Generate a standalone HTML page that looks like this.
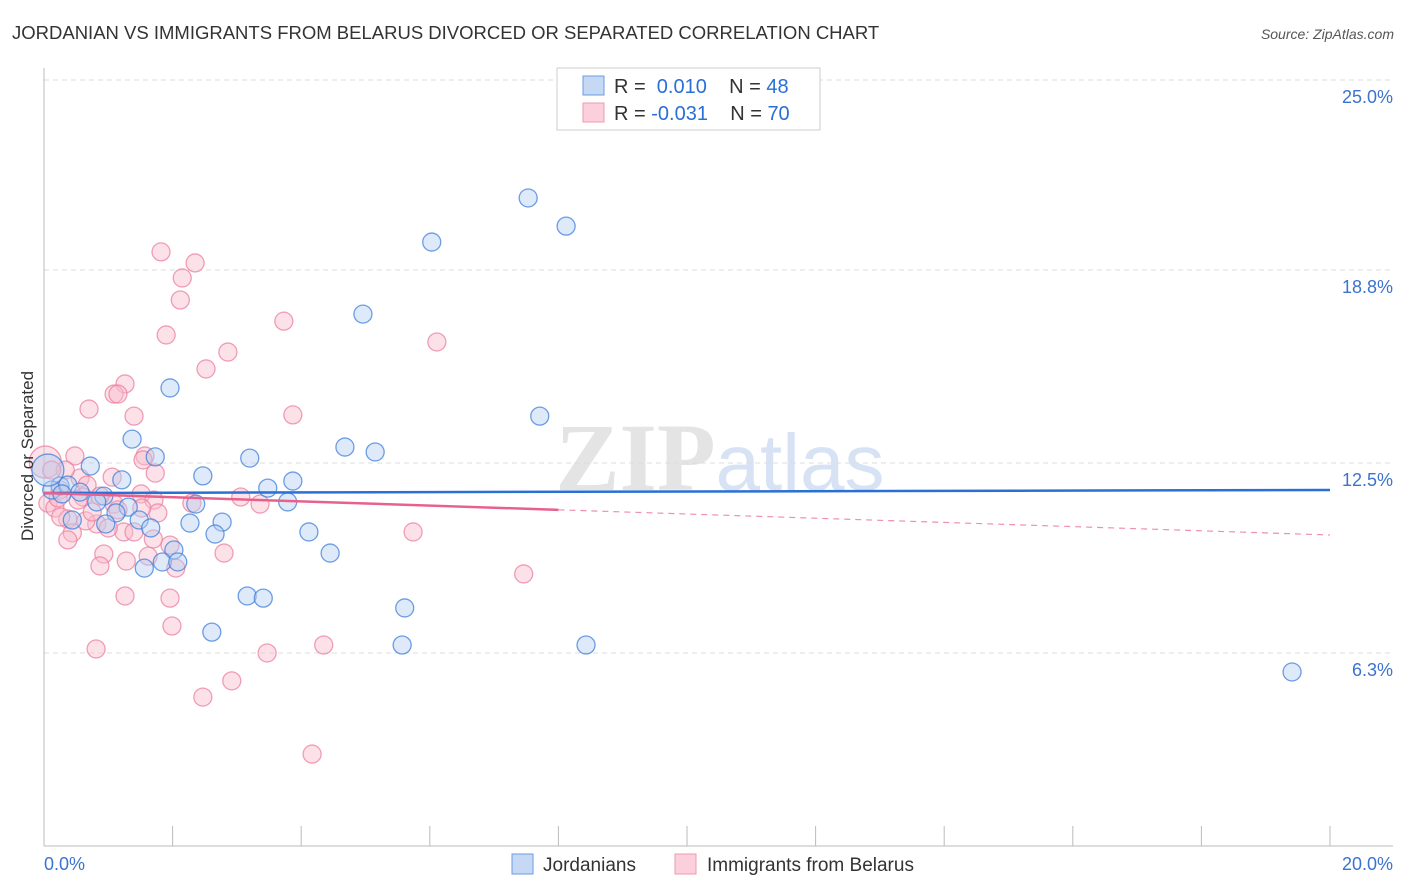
<!DOCTYPE html>
<html><head><meta charset="utf-8"><style>
body{margin:0;background:#fff;font-family:"Liberation Sans",sans-serif}
</style></head><body>
<svg id="chart" width="1406" height="892" xmlns="http://www.w3.org/2000/svg" style="display:block">
<text x="12" y="39" font-size="18.5" fill="#333">JORDANIAN VS IMMIGRANTS FROM BELARUS DIVORCED OR SEPARATED CORRELATION CHART</text>
<text x="1394" y="39" font-size="14" fill="#555" text-anchor="end" font-style="italic">Source: ZipAtlas.com</text>
<text x="720" y="490" font-size="96" text-anchor="middle" fill="#e4e4e4" font-family="Liberation Serif,serif" font-weight="bold">ZIP<tspan fill="#d7e3f4" font-family="Liberation Sans,sans-serif" font-weight="normal" font-size="80">atlas</tspan></text>
<g id="grid"></g><g id="axes"></g><g id="pts"></g><g id="lines"></g>
<text transform="translate(33,456) rotate(-90)" font-size="17" fill="#333" text-anchor="middle">Divorced or Separated</text>
<g>
<rect x="557" y="68" width="263" height="62" fill="#fff" stroke="#ccc"/>
<rect x="583" y="76" width="21" height="19" fill="#c5d9f5" stroke="#6b9be0"/>
<rect x="583" y="103" width="21" height="19" fill="#fbd0dc" stroke="#ef9ab3"/>
<text x="614" y="93" font-size="20" fill="#333">R = <tspan fill="#2a6fd6">&#160;0.010</tspan>&#160;&#160;&#160; N = <tspan fill="#2a6fd6">48</tspan></text>
<text x="614" y="120" font-size="20" fill="#333">R = <tspan fill="#2a6fd6">-0.031</tspan>&#160;&#160;&#160; N = <tspan fill="#2a6fd6">70</tspan></text>
</g>
<g>
<rect x="512" y="854" width="21" height="20" fill="#c5d9f5" stroke="#6b9be0"/>
<text x="543" y="871" font-size="19" fill="#333">Jordanians</text>
<rect x="675" y="854" width="21" height="20" fill="#fbd0dc" stroke="#ef9ab3"/>
<text x="707" y="871" font-size="19" fill="#333">Immigrants from Belarus</text>
</g>
</svg>
<script>
const yTicks=[25,18.8,12.5,6.3];
const yTickLabels=["25.0%","18.8%","12.5%","6.3%"];
const xTickLabels=["0.0%","20.0%"];
const blueX=[7.53,8.12,6.03,4.96,1.96,7.71,1.37,4.68,5.15,1.73,3.20,0.72,2.47,1.21,3.87,3.48,0.25,0.12,0.37,0.56,0.93,0.82,2.36,3.79,1.31,1.12,0.44,1.48,2.27,2.77,0.96,1.66,4.12,2.66,2.02,4.45,1.84,2.08,1.56,3.16,3.41,5.61,2.61,5.57,8.43,19.41,0.06,0.28];
const blueY=[21.15,20.23,19.71,17.36,14.95,14.03,13.28,13.02,12.86,12.70,12.66,12.40,12.08,11.95,11.91,11.68,11.75,11.62,11.78,11.55,11.42,11.23,11.16,11.23,11.06,10.87,10.64,10.64,10.54,10.57,10.51,10.38,10.25,10.18,9.66,9.56,9.27,9.27,9.07,8.16,8.09,7.77,6.98,6.56,6.56,5.68,12.27,11.49];
const pinkX=[1.82,2.35,2.15,2.12,3.73,1.90,6.11,2.86,2.52,1.26,1.09,1.15,0.70,1.40,3.87,0.48,1.57,1.54,0.02,1.73,1.06,0.56,0.67,0.33,0.25,0.61,1.51,3.06,3.36,2.30,1.71,0.06,1.09,0.17,0.37,1.77,0.82,1.24,1.40,1.00,0.44,0.37,1.70,0.65,0.26,0.93,1.28,1.62,2.80,5.74,2.05,0.87,7.46,1.26,1.96,1.99,0.81,3.47,4.35,2.92,2.47,4.17,0.12,0.22,0.87,1.15,1.52,0.75,0.53,1.96];
const pinkY=[19.39,19.03,18.54,17.82,17.13,16.68,16.45,16.12,15.57,15.08,14.75,14.75,14.26,14.03,14.07,12.73,12.73,12.60,12.53,12.17,12.04,12.01,11.78,12.27,11.62,11.39,11.49,11.39,11.16,11.19,11.29,11.19,11.16,11.03,10.67,10.87,10.51,10.25,10.25,10.38,10.22,9.99,10.02,10.61,10.74,9.53,9.30,9.46,9.56,10.25,9.07,9.14,8.88,8.16,8.09,7.18,6.43,6.30,6.56,5.39,4.86,3.00,12.27,11.36,11.42,10.97,11.03,10.90,11.29,9.82];
const blueTrend=[11.52,11.62];
const pinkTrend=[11.52,10.15];
const pinkSolidEnd=8.0;
const NS="http://www.w3.org/2000/svg";
const X=v=>44+v*64.3, Y=v=>846-v*30.64;
function mk(t,a,p){const e=document.createElementNS(NS,t);for(const k in a)e.setAttribute(k,a[k]);p.appendChild(e);return e;}
const grid=document.getElementById('grid'),axes=document.getElementById('axes'),pts=document.getElementById('pts'),lines=document.getElementById('lines');
yTicks.forEach((t,i)=>{
 const l=mk('line',{x1:44,x2:1393,y1:Y(t),y2:Y(t),stroke:'#ddd','stroke-dasharray':'5,4'},grid);
 
 
 const tx=mk('text',{x:1393,y:Y(t)+23,'font-size':18,fill:'#3b73cf','text-anchor':'end'},axes);
 tx.textContent=yTickLabels[i];
 
 
});
let a=mk('line',{x1:44,x2:44,y1:68,y2:846,stroke:'#bbb'},axes);


a=mk('line',{x1:44,x2:1393,y1:846,y2:846,stroke:'#bbb'},axes);


for(let i=0;i<=10;i++){const t=mk('line',{x1:X(i*2),x2:X(i*2),y1:826,y2:846,stroke:'#bbb'},axes);
 
 }
[[0,'start',44],[20,'end',1393]].forEach((d,i)=>{const t=mk('text',{x:d[2],y:870,'font-size':18,fill:'#3b73cf','text-anchor':d[1]},axes);t.textContent=xTickLabels[i];
 
 });
function dots(xs,ys,fill,stroke,name){xs.forEach((x,i)=>{const r=(i===xs.length-2&&name==='jordanian-point')||(i===18&&name==='belarus-point')?16:9;
 const c=mk('circle',{cx:X(x),cy:Y(ys[i]),r:r,fill:fill,'fill-opacity':0.45,stroke:stroke,'stroke-opacity':0.75,'stroke-width':1.3},pts);
 
 });}
dots(pinkX,pinkY,'#f8bccd','#ec7fa0','belarus-point');
dots(blueX,blueY,'#b5cff2','#3f7fdb','jordanian-point');
let l=mk('line',{x1:X(0),y1:Y(blueTrend[0]),x2:X(20),y2:Y(blueTrend[1]),stroke:'#2a6fd6','stroke-width':2.5},lines);


const py=x=>pinkTrend[0]+(pinkTrend[1]-pinkTrend[0])*x/20;
l=mk('line',{x1:X(0),y1:Y(py(0)),x2:X(pinkSolidEnd),y2:Y(py(pinkSolidEnd)),stroke:'#e8618c','stroke-width':2.5},lines);


l=mk('line',{x1:X(pinkSolidEnd),y1:Y(py(pinkSolidEnd)),x2:X(20),y2:Y(py(20)),stroke:'#e8618c','stroke-width':1.2,'stroke-dasharray':'6,5','stroke-opacity':0.7},lines);


</script>
</body></html>
